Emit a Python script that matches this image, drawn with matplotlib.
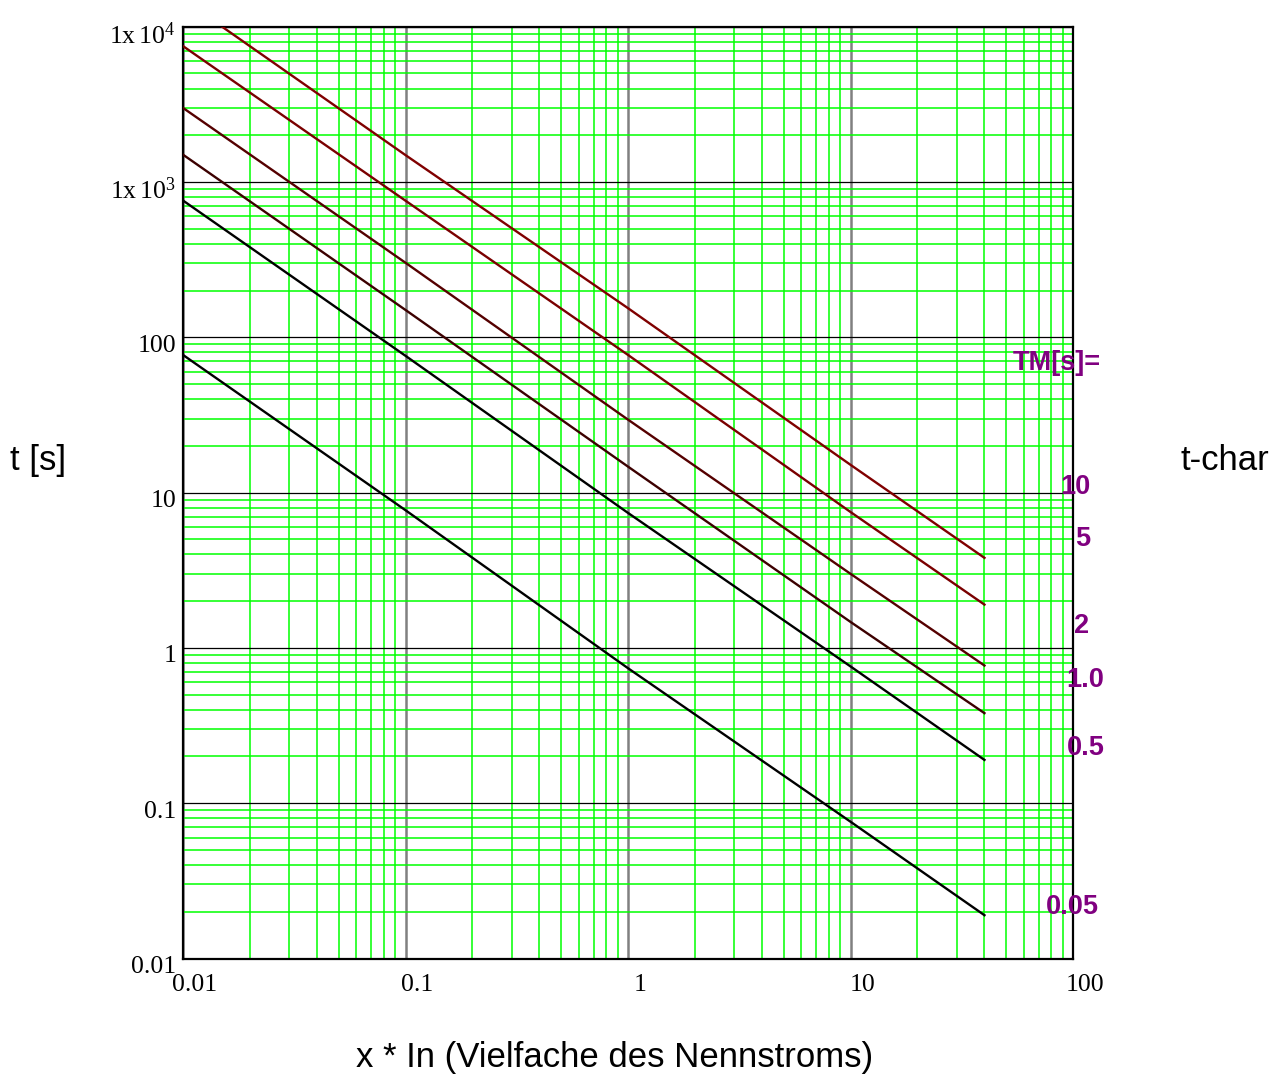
import numpy as np
import matplotlib
matplotlib.use('Agg')
import matplotlib.pyplot as plt
import matplotlib.transforms as mtransforms
from matplotlib.ticker import LogLocator, NullFormatter

plt.rcParams['font.family'] = ['Liberation Serif', 'DejaVu Serif']
plt.rcParams['mathtext.fontset'] = 'custom'
plt.rcParams['mathtext.rm'] = 'Liberation Serif'

# multiples of rated current (read at decades and line end)
x_in = [0.01, 0.1, 1, 10, 40]
# tripping time t [s] per time multiplier TM
t_10  = [15000, 1490, 154, 15.1, 3.8]
t_5   = [7500, 758, 77, 7.5, 1.9]
t_2   = [3000, 302, 29.5, 3.0, 0.77]
t_1   = [1500, 150, 14.7, 1.47, 0.38]
t_05  = [760, 76, 7.4, 0.76, 0.19]
t_005 = [77, 7.7, 0.74, 0.076, 0.019]

tm_labels = ['10', '5', '2', '1.0', '0.5', '0.05']
curves    = [t_10, t_5, t_2, t_1, t_05, t_005]
colors    = ['#800000', '#7a0000', '#550000', '#3c0000', '#000000', '#000000']

x_ticks = [0.01, 0.1, 1, 10, 100]
x_ticklabels = ['0.01', '0.1', '1', '10', '100']
y_ticks = [0.01, 0.1, 1, 10, 100, 1000, 10000]
y_ticklabels = ['0.01', '0.1', '1', '10', '100',
                r'$\mathregular{1x\,10^{3}}$',
                r'$\mathregular{1x\,10^{4}}$']

fig = plt.figure(figsize=(12.85, 10.79), dpi=100)
W, H = 1285., 1079.
ax = fig.add_axes([183/W, 1-958.5/H, (1073-183)/W, (958.5-26.7)/H])

for t, c in zip(curves, colors):
    ax.plot(x_in, t, '-', color=c, lw=1.7, zorder=5)

ax.set_xscale('log')
ax.set_yscale('log')
ax.set_xlim(0.01, 100)
ax.set_ylim(0.01, 1e4)

# grid: green minors, black horizontal / gray vertical decades
ax.xaxis.set_minor_locator(LogLocator(base=10, subs=np.arange(2, 10), numticks=20))
ax.yaxis.set_minor_locator(LogLocator(base=10, subs=np.arange(2, 10), numticks=20))
ax.xaxis.set_minor_formatter(NullFormatter())
ax.yaxis.set_minor_formatter(NullFormatter())
ax.grid(True, which='minor', axis='both', color='#00ff00', lw=1.1, zorder=1)
ax.grid(True, which='major', axis='y', color='black', lw=0.9, zorder=2)
ax.grid(True, which='major', axis='x', color='#808080', lw=1.8, zorder=2)
ax.set_axisbelow(True)

ax.set_xticks(x_ticks)
ax.set_xticklabels(x_ticklabels)
ax.set_yticks(y_ticks)
ax.set_yticklabels(y_ticklabels)
ax.tick_params(which='both', length=0, labelsize=18.5)
ax.tick_params(axis='x', pad=11)
ax.tick_params(axis='y', pad=5)
for lab in ax.get_xticklabels():
    lab.set_transform(lab.get_transform() + mtransforms.ScaledTranslation(12/100., 0, fig.dpi_scale_trans))
for lab in ax.get_yticklabels():
    lab.set_transform(lab.get_transform() + mtransforms.ScaledTranslation(0, -6/100., fig.dpi_scale_trans))

for s in ax.spines.values():
    s.set_linewidth(1.6)
    s.set_color('black')

sans = ['Liberation Sans', 'DejaVu Sans']
fig.text(615/W, 1-1058/H, 'x * In (Vielfache des Nennstroms)', family=sans, fontsize=25,
         ha='center', va='center')
fig.text(38/W, 1-460/H, 't [s]', family=sans, fontsize=25, ha='center', va='center')
fig.text(1225/W, 1-460/H, 't-char', family=sans, fontsize=25, ha='center', va='center')

purple = '#800080'
fig.text(1013/W, 1-370/H, 'TM[s]=', family=sans, fontsize=19.5, fontweight='bold',
         color=purple, ha='left', va='baseline')
lab_x = [1075, 1083, 1082, 1085.5, 1085.5, 1072]
lab_y = [494, 546, 633, 687, 755, 914]
for s, px, py in zip(tm_labels, lab_x, lab_y):
    fig.text(px/W, 1-py/H, s, family=sans, fontsize=19.5, fontweight='bold',
             color=purple, ha='center', va='baseline')

plt.savefig('out.png', dpi=100)
